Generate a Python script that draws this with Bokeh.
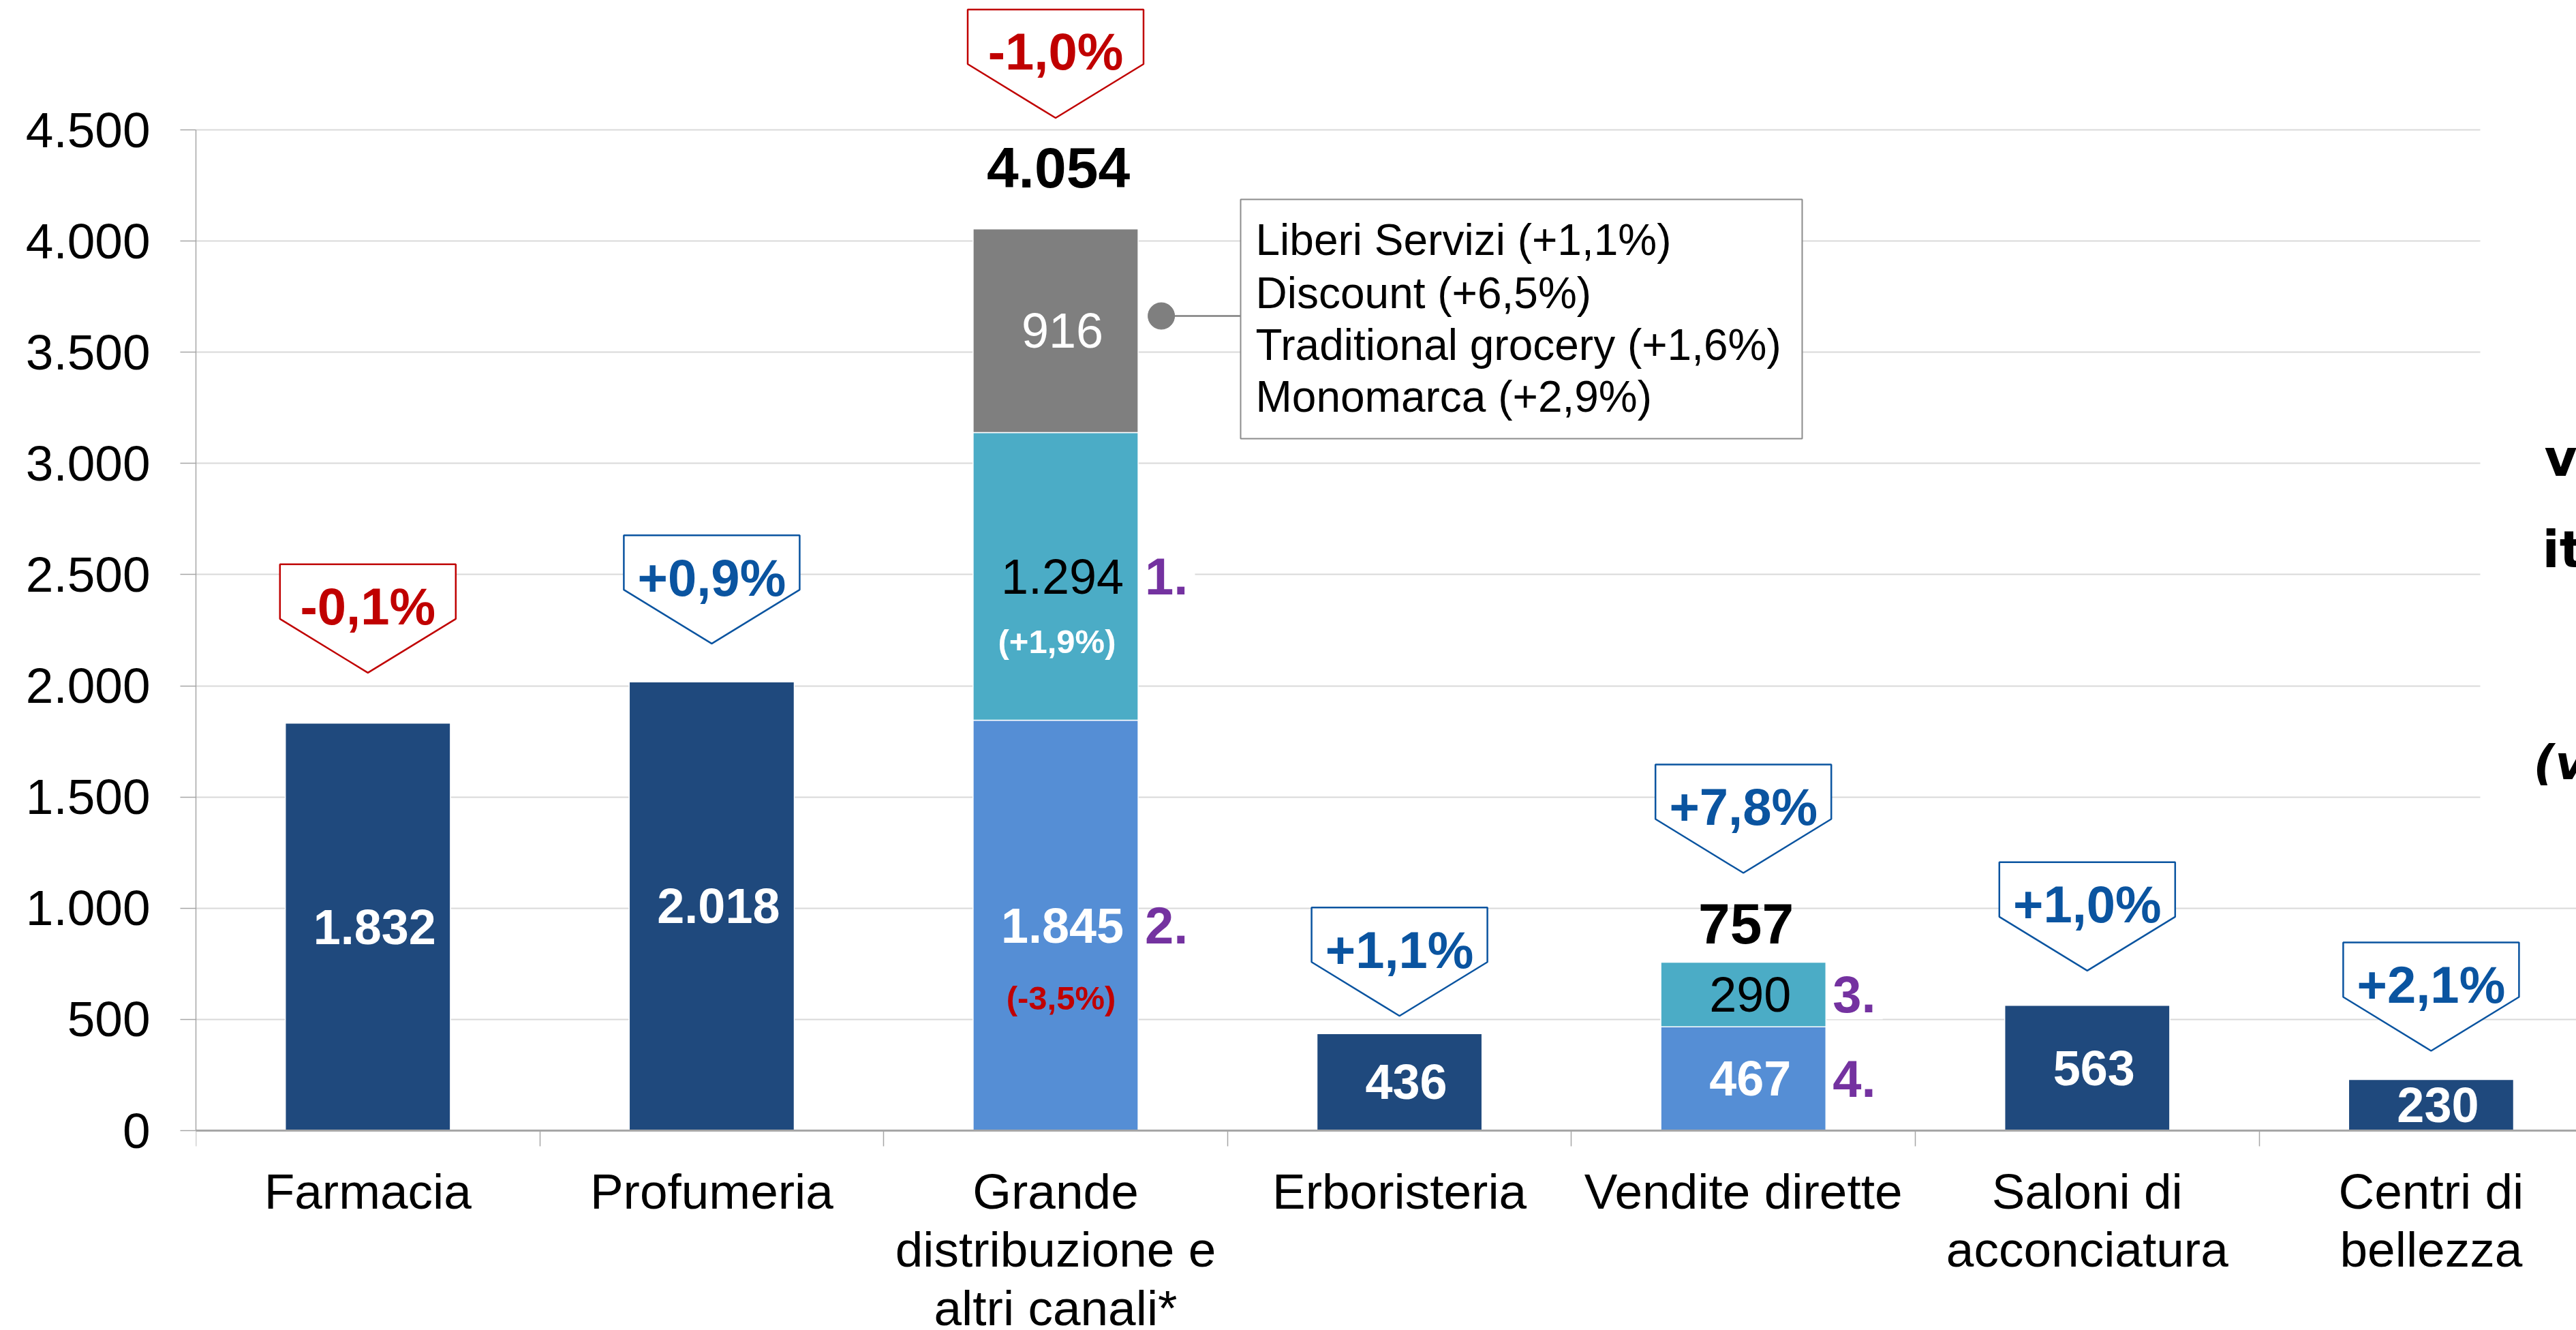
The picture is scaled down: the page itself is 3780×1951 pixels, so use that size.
from bokeh.plotting import figure
from bokeh.models import Range1d, FixedTicker, ColumnDataSource
from bokeh.core.properties import value
from bokeh.embed import file_html
from bokeh.resources import INLINE

# ---------------- data ----------------
categories = ["Farmacia", "Profumeria", "Grande distribuzione e altri canali*",
              "Erboristeria", "Vendite dirette", "Saloni di acconciatura", "Centri di bellezza"]
category_labels = ["Farmacia", "Profumeria", "Grande\ndistribuzione e\naltri canali*",
                   "Erboristeria", "Vendite dirette", "Saloni di\nacconciatura", "Centri di\nbellezza"]
base_values = [1832, 2018, 1845, 436, 467, 563, 230]
mid_values = [0, 0, 1294, 0, 290, 0, 0]
top_values = [0, 0, 916, 0, 0, 0, 0]
totals = [1832, 2018, 4054, 436, 757, 563, 230]
changes = ["-0,1%", "+0,9%", "-1,0%", "+1,1%", "+7,8%", "+1,0%", "+2,1%"]
base_changes = ["", "", "(-3,5%)", "", "", "", ""]
mid_changes = ["", "", "(+1,9%)", "", "", "", ""]
base_markers = ["", "", "2.", "", "4.", "", ""]
mid_markers = ["", "", "1.", "", "3.", "", ""]
legend_lines = ["Liberi Servizi (+1,1%)", "Discount (+6,5%)",
                "Traditional grocery (+1,6%)", "Monomarca (+2,9%)"]
y_ticks = [0, 500, 1000, 1500, 2000, 2500, 3000, 3500, 4000, 4500]
side_fragments = ["va", "ita", "(va"]


def it(v):
    return f"{v:,}".replace(",", ".")


# ---------------- style / geometry ----------------
NAVY = "#1F497D"
LIGHT = "#558ED5"
TEAL = "#4BACC6"
GRAY = "#7F7F7F"
RED = "#C00000"
BLUE = "#0A54A0"
PURPLE = "#7432A0"
AXIS_GRAY = "#A6A6A6"
GRID_GRAY = "#D9D9D9"
FONT = "Liberation Sans"

FIG_W, FIG_H = 3780, 1951
LEFT = 287                 # left border (y axis area)
ZERO_PX = 1658             # pixel row of value 0
FRAME_W = FIG_W - LEFT
CAT_PX = 504.6
UNIT_PX = 1468.0 / 4500.0
X_END = FRAME_W / CAT_PX
BAR_W = 0.48


def dx(px):
    return (px - LEFT) / CAT_PX


def dy(py):
    return (ZERO_PX - py) / UNIT_PX


def wpx(w):
    return w / CAT_PX


def hpx(h):
    return h / UNIT_PX


callout_gap_px = [74, 56, 163, 26, 131, 51, 42]
total_offset_px = [0, 0, 90, 0, 57, 0, 0]

p = figure(width=FIG_W, height=FIG_H, x_range=Range1d(0, X_END), y_range=Range1d(dy(FIG_H), dy(0)),
           output_backend="svg", toolbar_location=None,
           min_border_left=LEFT, min_border_right=0, min_border_top=0, min_border_bottom=0)
p.outline_line_color = None
p.background_fill_color = "white"
p.border_fill_color = "white"

xs = [i + 0.5 for i in range(len(categories))]

# white mask over gridlines at the right (slide title area)
p.quad(left=[dx(3639)], right=[X_END + 1], bottom=[dy(1250)], top=[dy(-10)],
       fill_color="white", line_color=None)

# ---------------- bars ----------------
stacked = [m > 0 for m in mid_values]
base_src = ColumnDataSource(dict(
    x=xs, top=base_values, bottom=[0] * len(xs),
    color=[LIGHT if s else NAVY for s in stacked],
    ly=[v / 2 for v in base_values], label=[it(v) for v in base_values]))
p.vbar(x="x", width=BAR_W, bottom="bottom", top="top", fill_color="color",
       line_color="white", line_width=1.5, source=base_src)

mi = [i for i, v in enumerate(mid_values) if v > 0]
mid_src = ColumnDataSource(dict(
    x=[xs[i] for i in mi], bottom=[base_values[i] for i in mi],
    top=[base_values[i] + mid_values[i] for i in mi],
    ly=[base_values[i] + mid_values[i] / 2 for i in mi],
    label=[it(mid_values[i]) for i in mi]))
p.vbar(x="x", width=BAR_W, bottom="bottom", top="top", fill_color=TEAL,
       line_color="white", line_width=1.5, source=mid_src)

ti = [i for i, v in enumerate(top_values) if v > 0]
top_src = ColumnDataSource(dict(
    x=[xs[i] for i in ti], bottom=[base_values[i] + mid_values[i] for i in ti],
    top=[base_values[i] + mid_values[i] + top_values[i] for i in ti],
    ly=[base_values[i] + mid_values[i] + top_values[i] / 2 for i in ti],
    label=[it(top_values[i]) for i in ti]))
p.vbar(x="x", width=BAR_W, bottom="bottom", top="top", fill_color=GRAY,
       line_color="white", line_width=1.5, source=top_src)

# value labels
p.text(x="x", y="ly", text="label", source=base_src, text_color="white",
       text_font=value(FONT), text_font_style="bold", text_font_size="72px",
       text_align="center", text_baseline="middle", x_offset=10)
p.text(x="x", y="ly", text="label", source=mid_src, text_color="black",
       text_font=value(FONT), text_font_size="72px",
       text_align="center", text_baseline="middle", x_offset=10)
p.text(x="x", y="ly", text="label", source=top_src, text_color="white",
       text_font=value(FONT), text_font_size="72px",
       text_align="center", text_baseline="middle", x_offset=10)

# segment change labels
bc = [i for i, t in enumerate(base_changes) if t]
p.text(x=[xs[i] for i in bc], y=[base_values[i] / 2 for i in bc], text=[base_changes[i] for i in bc],
       text_color=RED, text_font=value(FONT), text_font_style="bold", text_font_size="49px",
       text_align="center", text_baseline="middle", x_offset=8, y_offset=106)
mc = [i for i, t in enumerate(mid_changes) if t]
p.text(x=[xs[i] for i in mc], y=[base_values[i] + mid_values[i] / 2 for i in mc],
       text=[mid_changes[i] for i in mc],
       text_color="white", text_font=value(FONT), text_font_style="bold", text_font_size="49px",
       text_align="center", text_baseline="middle", x_offset=2, y_offset=95)

# totals above stacked bars
si = [i for i, s in enumerate(stacked) if s]
p.text(x=[xs[i] for i in si], y=[totals[i] for i in si], text=[it(totals[i]) for i in si],
       y_offset=[-total_offset_px[i] for i in si],
       text_color="black", text_font=value(FONT), text_font_style="bold", text_font_size="84px",
       text_align="center", text_baseline="middle", x_offset=4)

# purple side markers
bm = [i for i, t in enumerate(base_markers) if t]
p.text(x=[xs[i] + BAR_W / 2 for i in bm], y=[base_values[i] / 2 for i in bm],
       text=[base_markers[i] for i in bm], text_color=PURPLE, text_font=value(FONT),
       text_font_style="bold", text_font_size="76px", text_align="left", text_baseline="middle",
       x_offset=10)
mm = [i for i, t in enumerate(mid_markers) if t]
p.text(x=[xs[i] + BAR_W / 2 for i in mm], y=[base_values[i] + mid_values[i] / 2 for i in mm],
       text=[mid_markers[i] for i in mm], text_color=PURPLE, text_font=value(FONT),
       text_font_style="bold", text_font_size="76px", text_align="left", text_baseline="middle",
       background_fill_color="white", padding=10)

# ---------------- change callouts ----------------
CW = wpx(258) / 2
RECT_H = hpx(80)
TRI_H = hpx(79)
cx_list, cy_list, col_list, txt_y = [], [], [], []
for i, ch in enumerate(changes):
    tip = totals[i] + hpx(callout_gap_px[i])
    c = xs[i]
    cx_list.append([c - CW, c + CW, c + CW, c, c - CW])
    cy_list.append([tip + TRI_H + RECT_H, tip + TRI_H + RECT_H, tip + TRI_H, tip, tip + TRI_H])
    col_list.append(RED if ch.startswith("-") else BLUE)
    txt_y.append(tip + hpx(97))
call_src = ColumnDataSource(dict(xs=cx_list, ys=cy_list, color=col_list, x=xs, ty=txt_y, text=changes))
p.patches(xs="xs", ys="ys", fill_color="white", line_color="color", line_width=2.5, source=call_src)
p.text(x="x", y="ty", text="text", text_color="color", source=call_src,
       text_font=value(FONT), text_font_style="bold", text_font_size="76px",
       text_align="center", text_baseline="middle")

# ---------------- detail box for the grey segment ----------------
g = si[0]
edge = xs[g] + BAR_W / 2
dot_y = dy(463)
p.segment(x0=[edge + wpx(34)], y0=[dot_y], x1=[dx(1820)], y1=[dot_y], line_color=GRAY, line_width=2.5)
p.scatter(x=[edge + wpx(34)], y=[dot_y], size=39, fill_color=GRAY, line_color=GRAY)
p.quad(left=[dx(1820)], right=[dx(2644)], top=[dy(292)], bottom=[dy(643)],
       fill_color="white", line_color="#8C8C8C", line_width=2)
p.text(x=[dx(1842)] * 4, y=[dy(351), dy(429), dy(505), dy(581)], text=legend_lines,
       text_color="black", text_font=value(FONT), text_font_size="64px",
       text_align="left", text_baseline="middle")

# ---------------- slide title fragments (cut at right edge, as in the source slide) ----------------
p.text(x=[dx(3733), dx(3730)], y=[dy(671), dy(805)], text=side_fragments[:2],
       text_color="black", text_font=value("DejaVu Sans"), text_font_style="bold",
       text_font_size="74px", text_align="left", text_baseline="middle")
p.text(x=[dx(3717)], y=[dy(1118)], text=side_fragments[2:],
       text_color="black", text_font=value("DejaVu Sans"), text_font_style="bold italic",
       text_font_size="70px", text_align="left", text_baseline="middle")

# ---------------- axes & grid ----------------
p.xgrid.visible = False
p.ygrid.ticker = FixedTicker(ticks=y_ticks)
p.ygrid.grid_line_color = GRID_GRAY
p.ygrid.grid_line_width = 2

p.xaxis.fixed_location = 0
p.xaxis.ticker = FixedTicker(ticks=xs, minor_ticks=list(range(len(categories) + 1)))
p.xaxis.major_label_overrides = {x: lbl for x, lbl in zip(xs, category_labels)}
p.xaxis.major_tick_line_color = None
p.xaxis.major_tick_out = 0
p.xaxis.major_tick_in = 0
p.xaxis.minor_tick_out = 23
p.xaxis.minor_tick_in = 0
p.xaxis.minor_tick_line_color = AXIS_GRAY
p.xaxis.minor_tick_line_width = 1.5
p.xaxis.axis_line_color = AXIS_GRAY
p.xaxis.axis_line_width = 3
p.xaxis.major_label_text_font = FONT
p.xaxis.major_label_text_font_size = "73px"
p.xaxis.major_label_text_color = "black"
p.xaxis.major_label_text_line_height = 1.06
p.xaxis.major_label_standoff = 25

p.yaxis.ticker = FixedTicker(ticks=y_ticks)
p.yaxis.major_label_overrides = {t: it(t) for t in y_ticks}
p.yaxis.bounds = (0, 4500)
p.yaxis.major_tick_out = 23
p.yaxis.major_tick_in = 0
p.yaxis.major_tick_line_color = AXIS_GRAY
p.yaxis.major_tick_line_width = 1.5
p.yaxis.minor_tick_line_color = None
p.yaxis.axis_line_color = AXIS_GRAY
p.yaxis.axis_line_width = 1.5
p.yaxis.major_label_text_font = FONT
p.yaxis.major_label_text_font_size = "73px"
p.yaxis.major_label_text_color = "black"
p.yaxis.major_label_standoff = 44

open("out.html", "w").write(file_html(p, INLINE))
